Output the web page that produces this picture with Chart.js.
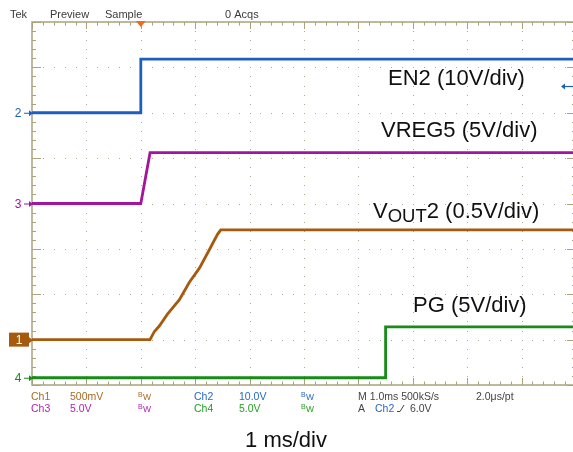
<!DOCTYPE html>
<html>
<head>
<meta charset="utf-8">
<script src="https://cdn.jsdelivr.net/npm/chart.js@4.4.1/dist/chart.umd.min.js"></script>
<style>
  html, body { margin: 0; padding: 0; background: #fff; overflow: hidden; }
  canvas { display: block; }
</style>
</head>
<body>
<canvas id="scope" width="578" height="452"></canvas>
<script>
// time in ms (1 ms/div), trigger at t = 0
const en2Time = [-2, 0, 0, 8];
const en2Volts = [0, 0, 11.8, 11.8];
const vreg5Time = [-2, 0, 0.17, 8];
const vreg5Volts = [0, 0, 5.6, 5.6];
const vout2Time = [-2, 0.17, 0.25, 0.34, 0.49, 0.71, 0.89, 1.08, 1.26, 1.41, 1.47, 8];
const vout2Volts = [0, 0, 0.09, 0.15, 0.28, 0.44, 0.63, 0.79, 0.99, 1.16, 1.21, 1.21];
const pgTime = [-2, 4.5, 4.5, 8];
const pgVolts = [0, 0, 5.6, 5.6];

// channel setup: volts per division and ground position (divisions above bottom)
const chNumbers = [2, 3, 1, 4];
const chVoltsPerDiv = [10, 5, 0.5, 5];
const chGround = [6, 4, 1, 0.16];
const chColors = ['#1d5fc0', '#a3149f', '#a65a0e', '#188c18'];
const triggerVolts = 6.0;

const traces = [
  [en2Time, en2Volts],
  [vreg5Time, vreg5Volts],
  [vout2Time, vout2Volts],
  [pgTime, pgVolts],
];

const frameColor = '#aaa27c';
const dotColor = '#b3ab8e';
const textFont = '"Liberation Sans", Arial, sans-serif';

const toDivs = (ch, v) => chGround[ch] + v / chVoltsPerDiv[ch];

const datasets = traces.map(([t, v], i) => ({
  data: t.map((tt, k) => ({ x: tt, y: toDivs(i, v[k]) })),
  borderColor: chColors[i],
  borderWidth: 2.8,
  pointRadius: 0,
  tension: 0,
  fill: false,
}));

function text(ctx, str, x, y, size, color, align) {
  ctx.font = size + 'px ' + textFont;
  ctx.fillStyle = color;
  ctx.textAlign = align || 'left';
  ctx.textBaseline = 'alphabetic';
  ctx.fillText(str, x, y);
}

const scopeScreen = {
  id: 'scopeScreen',
  beforeDatasetsDraw(chart) {
    const { ctx, chartArea: a, scales: { x, y } } = chart;
    ctx.save();
    // dotted graticule
    ctx.fillStyle = dotColor;
    for (let i = 1; i < 10; i++) {
      const px = Math.round(x.getPixelForValue(-2 + i));
      for (let j = 1; j < 40; j++) {
        ctx.fillRect(px, Math.round(y.getPixelForValue(j * 0.2)), 1, 1);
      }
    }
    for (let j = 1; j < 8; j++) {
      const py = Math.round(y.getPixelForValue(j));
      for (let i = 1; i < 50; i++) {
        ctx.fillRect(Math.round(x.getPixelForValue(-2 + i * 0.2)), py, 1, 1);
      }
    }
    // frame and edge ticks
    ctx.strokeStyle = frameColor;
    ctx.lineWidth = 1.5;
    ctx.strokeRect(a.left, a.top, a.right - a.left, a.bottom - a.top);
    ctx.lineWidth = 1;
    ctx.beginPath();
    for (let k = 0; k <= 50; k++) {
      const px = Math.round(x.getPixelForValue(-2 + k * 0.2)) + 0.5;
      const len = k % 5 === 0 ? 7 : 3.5;
      ctx.moveTo(px, a.top); ctx.lineTo(px, a.top + len);
      ctx.moveTo(px, a.bottom); ctx.lineTo(px, a.bottom - len);
    }
    for (let k = 0; k <= 40; k++) {
      const py = Math.round(y.getPixelForValue(k * 0.2)) + 0.5;
      const len = k % 5 === 0 ? 9 : 4;
      ctx.moveTo(a.left, py); ctx.lineTo(a.left + len, py);
      ctx.moveTo(a.right, py); ctx.lineTo(a.right - len, py);
    }
    ctx.stroke();
    ctx.restore();
  },
  afterDraw(chart) {
    const { ctx, chartArea: a, scales: { x, y } } = chart;
    ctx.save();

    // header
    text(ctx, 'Tek', 10, 18, 11, '#3a3a3a');
    text(ctx, 'Preview', 50, 18, 11, '#3a3a3a');
    text(ctx, 'Sample', 105, 18, 11, '#3a3a3a');
    text(ctx, '0 Acqs', 225, 18, 11, '#3a3a3a');

    // trigger position marker
    const tx = x.getPixelForValue(0);
    ctx.fillStyle = '#f26a1f';
    ctx.beginPath();
    ctx.moveTo(tx - 5, a.top - 1);
    ctx.lineTo(tx + 5, a.top - 1);
    ctx.lineTo(tx, a.top + 5);
    ctx.closePath();
    ctx.fill();

    // ground markers on the left edge
    chNumbers.forEach((n, i) => {
      const py = y.getPixelForValue(chGround[i]);
      const col = chColors[i];
      if (n === 1) {
        ctx.fillStyle = col;
        ctx.fillRect(9, py - 7, 20, 14);
        text(ctx, '1', 19, py + 4.5, 12, '#fff', 'center');
      } else {
        text(ctx, String(n), 18, py + 4.5, 12, col, 'center');
      }
      ctx.strokeStyle = col;
      ctx.fillStyle = col;
      ctx.lineWidth = 1;
      ctx.beginPath();
      ctx.moveTo(n === 1 ? 29 : 24, py + 0.5);
      ctx.lineTo(a.left - 1, py + 0.5);
      ctx.stroke();
      ctx.beginPath();
      ctx.moveTo(a.left + 1, py + 0.5);
      ctx.lineTo(a.left - 3, py - 2.5);
      ctx.lineTo(a.left - 3, py + 3.5);
      ctx.closePath();
      ctx.fill();
    });

    // trigger level marker on the right (Ch2)
    const ly = Math.round(y.getPixelForValue(toDivs(0, triggerVolts))) + 0.5;
    ctx.strokeStyle = chColors[0];
    ctx.fillStyle = chColors[0];
    ctx.lineWidth = 1.2;
    ctx.beginPath();
    ctx.moveTo(564, ly); ctx.lineTo(573, ly);
    ctx.stroke();
    ctx.beginPath();
    ctx.moveTo(561, ly); ctx.lineTo(565, ly - 3); ctx.lineTo(565, ly + 3);
    ctx.closePath();
    ctx.fill();

    // trace labels
    text(ctx, 'EN2 (10V/div)', 388, 85, 22, '#111');
    text(ctx, 'VREG5 (5V/div)', 381, 137, 22, '#111');
    ctx.font = '22px ' + textFont;
    let vx = 373;
    text(ctx, 'V', vx, 218, 22, '#111');
    vx += ctx.measureText('V').width;
    text(ctx, 'OUT', vx, 222, 18.5, '#111');
    ctx.font = '18.5px ' + textFont;
    vx += ctx.measureText('OUT').width;
    text(ctx, '2 (0.5V/div)', vx, 218, 22, '#111');
    text(ctx, 'PG (5V/div)', 413, 312, 22, '#111');

    // status readout
    const bw = (bx, by, col) => {
      text(ctx, 'B', bx, by - 3, 7, col);
      text(ctx, 'W', bx + 5, by, 8.5, col);
    };
    const r1 = 400, r2 = 412;
    text(ctx, 'Ch1', 31, r1, 10.5, '#a86a22');
    text(ctx, '500mV', 70, r1, 10.5, '#a86a22');
    bw(138, r1, '#a86a22');
    text(ctx, 'Ch2', 194, r1, 10.5, '#2768c6');
    text(ctx, '10.0V', 239, r1, 10.5, '#2768c6');
    bw(301, r1, '#2768c6');
    text(ctx, 'M 1.0ms 500kS/s', 358, r1, 10.5, '#444');
    text(ctx, '2.0\u03bcs/pt', 476, r1, 10.5, '#444');
    text(ctx, 'Ch3', 31, r2, 10.5, '#b222b2');
    text(ctx, '5.0V', 70, r2, 10.5, '#b222b2');
    bw(138, r2, '#b222b2');
    text(ctx, 'Ch4', 194, r2, 10.5, '#24a024');
    text(ctx, '5.0V', 239, r2, 10.5, '#24a024');
    bw(301, r2, '#24a024');
    text(ctx, 'A', 358, r2, 10.5, '#444');
    text(ctx, 'Ch2', 375, r2, 10.5, '#2768c6');
    ctx.strokeStyle = '#444';
    ctx.lineWidth = 1;
    ctx.beginPath();
    ctx.moveTo(397, r2 - 0.5); ctx.lineTo(400, r2 - 0.5); ctx.lineTo(404, r2 - 7);
    ctx.stroke();
    text(ctx, '6.0V', 410, r2, 10.5, '#444');

    // time base
    text(ctx, '1 ms/div', 286, 447, 22, '#111', 'center');
    ctx.restore();
  },
};

new Chart(document.getElementById('scope'), {
  type: 'line',
  data: { datasets },
  options: {
    responsive: false,
    animation: false,
    events: [],
    layout: { padding: { left: 32, top: 22, right: 2, bottom: 67 } },
    plugins: { legend: { display: false }, tooltip: { enabled: false } },
    scales: {
      x: { type: 'linear', min: -2, max: 8, display: false },
      y: { type: 'linear', min: 0, max: 8, display: false },
    },
  },
  plugins: [scopeScreen],
});
</script>
</body>
</html>
